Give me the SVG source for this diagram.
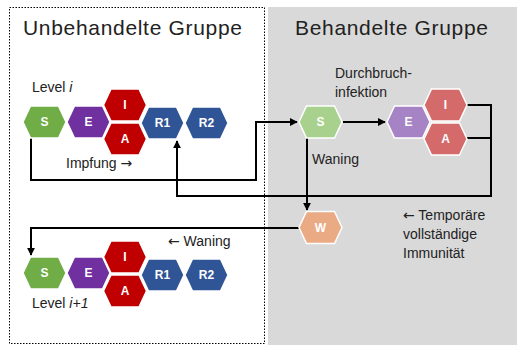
<svg xmlns="http://www.w3.org/2000/svg" width="517" height="345" viewBox="0 0 517 345">
<defs>
<polygon id="hex" points="-21.5,0 -14,-16 14,-16 21.5,0 14,16 -14,16"/>
<marker id="ah" viewBox="0 0 10 10" refX="9" refY="5" markerWidth="4" markerHeight="4" orient="auto" markerUnits="strokeWidth"><path d="M0,0 L10,5 L0,10 z" fill="#000"/></marker>
</defs>
<style>
.t{font-family:"Liberation Sans",Arial,sans-serif;fill:#222;}
.title{font-size:21px;}
.lbl{font-size:14px;}
.ar{font-family:"DejaVu Sans",sans-serif;}
.hl{font-family:"Liberation Sans",Arial,sans-serif;font-size:12px;font-weight:bold;fill:#fff;text-anchor:middle;}
.c{fill:none;stroke:#000;stroke-width:2;}
use{stroke:#fff;stroke-width:1.5;}
.g{fill:#70AD47}.p{fill:#7030A0}.r{fill:#C00000}.b{fill:#2F5597}
.lg{fill:#A9D18E}.lp{fill:#A683C4}.lr{fill:#D46A6A}.w{fill:#EAAA84}
</style>
<rect x="0" y="0" width="517" height="345" fill="#fff"/>
<rect id="treated-bg" x="268" y="7" width="249" height="338" fill="#D9D9D9"/>
<rect id="untreated-box" x="9.5" y="7.5" width="255" height="336" fill="none" stroke="#000" stroke-width="1" stroke-dasharray="1.5,1.5"/>
<text class="t title" x="23" y="35" textLength="219">Unbehandelte Gruppe</text>
<text class="t title" x="295" y="35" textLength="193">Behandelte Gruppe</text>

<g id="connectors">
<polyline class="c" points="31,137 31,180 256,180 256,122 297,122" marker-end="url(#ah)"/>
<polyline class="c" points="467,105 491,105 491,196 177,196 177,141" marker-end="url(#ah)"/>
<line class="c" x1="467" y1="138" x2="491" y2="138"/>
<line class="c" x1="343" y1="122" x2="385" y2="122" marker-end="url(#ah)"/>
<line class="c" x1="307" y1="137" x2="307" y2="210" marker-end="url(#ah)"/>
<polyline class="c" points="299,228 31,228 31,255" marker-end="url(#ah)"/>
</g>

<g id="S1"><use href="#hex" class="g" x="44.5" y="122"/><text class="hl" x="44.5" y="126">S</text></g>
<g id="E1"><use href="#hex" class="p" x="88.5" y="122"/><text class="hl" x="88.5" y="126">E</text></g>
<g id="I1"><use href="#hex" class="r" x="125" y="105"/><text class="hl" x="125" y="109">I</text></g>
<g id="A1"><use href="#hex" class="r" x="125" y="139"/><text class="hl" x="125" y="143">A</text></g>
<g id="R1a"><use href="#hex" class="b" x="162.5" y="123"/><text class="hl" x="162.5" y="127">R1</text></g>
<g id="R2a"><use href="#hex" class="b" x="206.5" y="123"/><text class="hl" x="206.5" y="127">R2</text></g>

<g id="S2"><use href="#hex" class="g" x="44.5" y="273"/><text class="hl" x="44.5" y="277">S</text></g>
<g id="E2"><use href="#hex" class="p" x="88.5" y="273"/><text class="hl" x="88.5" y="277">E</text></g>
<g id="I2"><use href="#hex" class="r" x="125" y="257"/><text class="hl" x="125" y="261">I</text></g>
<g id="A2"><use href="#hex" class="r" x="125" y="291"/><text class="hl" x="125" y="295">A</text></g>
<g id="R1b"><use href="#hex" class="b" x="162.5" y="275"/><text class="hl" x="162.5" y="279">R1</text></g>
<g id="R2b"><use href="#hex" class="b" x="206.5" y="275"/><text class="hl" x="206.5" y="279">R2</text></g>

<g id="TS"><use href="#hex" class="lg" x="320.5" y="122"/><text class="hl" x="320.5" y="126">S</text></g>
<g id="TE"><use href="#hex" class="lp" x="408.5" y="122"/><text class="hl" x="408.5" y="126">E</text></g>
<g id="TI"><use href="#hex" class="lr" x="445.5" y="105"/><text class="hl" x="445.5" y="109">I</text></g>
<g id="TA"><use href="#hex" class="lr" x="445.5" y="139"/><text class="hl" x="445.5" y="143">A</text></g>
<g id="W"><use href="#hex" class="w" x="320.5" y="227.5"/><text class="hl" x="320.5" y="231.5">W</text></g>

<text class="t lbl" x="32" y="92">Level <tspan font-style="italic">i</tspan></text>
<text class="t lbl" x="66" y="168">Impfung <tspan class="ar">→</tspan></text>
<text class="t lbl" x="335" y="78">Durchbruch-</text>
<text class="t lbl" x="335" y="97">infektion</text>
<text class="t lbl" x="312" y="164">Waning</text>
<text class="t lbl" x="168" y="246"><tspan class="ar">←</tspan> Waning</text>
<text class="t lbl" x="32" y="308">Level <tspan font-style="italic">i+1</tspan></text>
<text class="t lbl" x="403" y="220"><tspan class="ar">←</tspan> Temporäre</text>
<text class="t lbl" x="403" y="239">vollständige</text>
<text class="t lbl" x="403" y="258">Immunität</text>
</svg>
